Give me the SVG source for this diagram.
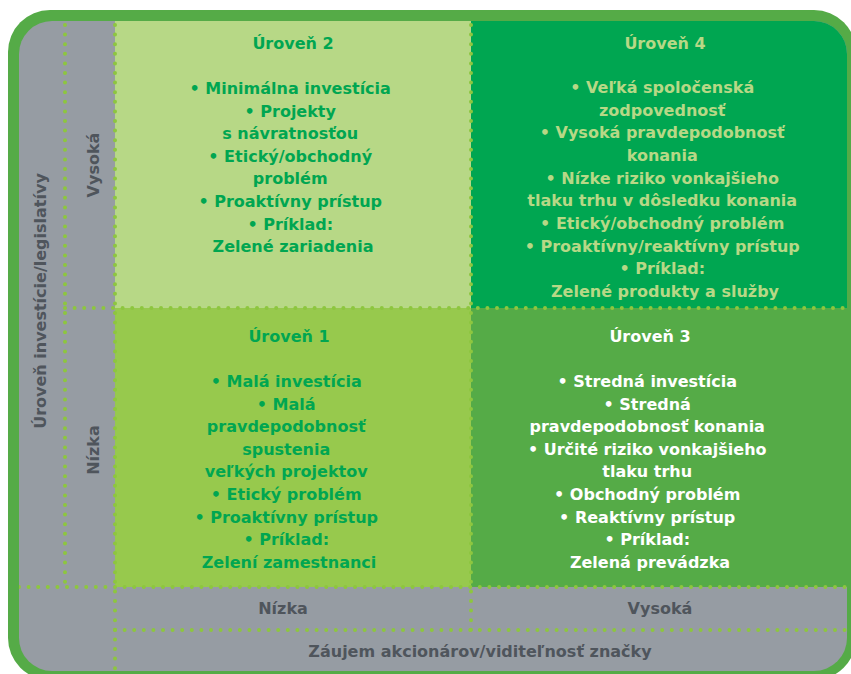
<svg xmlns="http://www.w3.org/2000/svg" width="851" height="674" viewBox="0 0 851 674">
  <style>
    .t { font-family: "DejaVu Sans", "Liberation Sans", sans-serif; font-weight: bold; font-size: 16px; text-anchor: middle; }
    .dk { fill: #00a651; }
    .lt { fill: #b7d886; }
    .wh { fill: #ffffff; }
    .gr { fill: #4f555c; }
    .dots { fill: none; stroke: #8dc63f; stroke-width: 4; stroke-linecap: round; stroke-dasharray: 0 9.6; }
  </style>
  <defs>
    <clipPath id="inner">
      <rect x="19" y="21" width="828" height="650" rx="33" ry="33"/>
    </clipPath>
  </defs>

  <rect id="frame" x="8" y="10" width="848" height="670" rx="42" ry="42" fill="#55ab47"/>

  <g clip-path="url(#inner)">
    <rect x="19" y="21" width="828" height="650" fill="#969ca3"/>
    <rect x="115" y="21" width="356" height="287" fill="#b7d886"/>
    <rect x="471" y="21" width="376" height="287" fill="#00a651"/>
    <rect x="115" y="308" width="356" height="279" fill="#97c94d"/>
    <rect x="471" y="308" width="376" height="279" fill="#55ab47"/>
  </g>

  <g id="grid" clip-path="url(#inner)">
    <line class="dots" x1="65" y1="25" x2="65" y2="587"/>
    <line class="dots" x1="115" y1="25" x2="115" y2="671"/>
    <line class="dots" x1="471" y1="25" x2="471" y2="630"/>
    <line class="dots" x1="65" y1="308" x2="847" y2="308"/>
    <line class="dots" x1="19" y1="587" x2="847" y2="587"/>
    <line class="dots" x1="115" y1="630" x2="847" y2="630"/>
  </g>

  <g id="q2">
    <text class="t dk" x="293" y="49">Úroveň 2</text>
    <text class="t dk">
      <tspan x="293" y="94">• Minimálna investícia</tspan>
      <tspan x="293" dy="22.6">• Projekty</tspan>
      <tspan x="293" dy="22.6">s návratnosťou</tspan>
      <tspan x="293" dy="22.6">• Etický/obchodný</tspan>
      <tspan x="293" dy="22.6">problém</tspan>
      <tspan x="293" dy="22.6">• Proaktívny prístup</tspan>
      <tspan x="293" dy="22.6">• Príklad:</tspan>
      <tspan x="293" dy="22.6">Zelené zariadenia</tspan>
    </text>
  </g>

  <g id="q4">
    <text class="t lt" x="665" y="49">Úroveň 4</text>
    <text class="t lt">
      <tspan x="665" y="93">• Veľká spoločenská</tspan>
      <tspan x="665" dy="22.67">zodpovednosť</tspan>
      <tspan x="665" dy="22.67">• Vysoká pravdepodobnosť</tspan>
      <tspan x="665" dy="22.67">konania</tspan>
      <tspan x="665" dy="22.67">• Nízke riziko vonkajšieho</tspan>
      <tspan x="665" dy="22.67">tlaku trhu v dôsledku konania</tspan>
      <tspan x="665" dy="22.67">• Etický/obchodný problém</tspan>
      <tspan x="665" dy="22.67">• Proaktívny/reaktívny prístup</tspan>
      <tspan x="665" dy="22.67">• Príklad:</tspan>
      <tspan x="665" dy="22.67">Zelené produkty a služby</tspan>
    </text>
  </g>

  <g id="q1">
    <text class="t dk" x="289" y="342">Úroveň 1</text>
    <text class="t dk">
      <tspan x="289" y="387">• Malá investícia</tspan>
      <tspan x="289" dy="22.6">• Malá</tspan>
      <tspan x="289" dy="22.6">pravdepodobnosť</tspan>
      <tspan x="289" dy="22.6">spustenia</tspan>
      <tspan x="289" dy="22.6">veľkých projektov</tspan>
      <tspan x="289" dy="22.6">• Etický problém</tspan>
      <tspan x="289" dy="22.6">• Proaktívny prístup</tspan>
      <tspan x="289" dy="22.6">• Príklad:</tspan>
      <tspan x="289" dy="22.6">Zelení zamestnanci</tspan>
    </text>
  </g>

  <g id="q3">
    <text class="t wh" x="650" y="342">Úroveň 3</text>
    <text class="t wh">
      <tspan x="650" y="387">• Stredná investícia</tspan>
      <tspan x="650" dy="22.6">• Stredná</tspan>
      <tspan x="650" dy="22.6">pravdepodobnosť konania</tspan>
      <tspan x="650" dy="22.6">• Určité riziko vonkajšieho</tspan>
      <tspan x="650" dy="22.6">tlaku trhu</tspan>
      <tspan x="650" dy="22.6">• Obchodný problém</tspan>
      <tspan x="650" dy="22.6">• Reaktívny prístup</tspan>
      <tspan x="650" dy="22.6">• Príklad:</tspan>
      <tspan x="650" dy="22.6">Zelená prevádzka</tspan>
    </text>
  </g>

  <g id="x-axis">
    <text class="t gr" x="283" y="614">Nízka</text>
    <text class="t gr" x="660" y="614">Vysoká</text>
    <text class="t gr" x="480" y="657">Záujem akcionárov/viditeľnosť značky</text>
  </g>

  <g id="y-axis">
    <text class="t gr" transform="translate(99,165) rotate(-90)">Vysoká</text>
    <text class="t gr" transform="translate(99,450) rotate(-90)">Nízka</text>
    <text class="t gr" transform="translate(46,301) rotate(-90)">Úroveň investície/legislatívy</text>
  </g>
</svg>
